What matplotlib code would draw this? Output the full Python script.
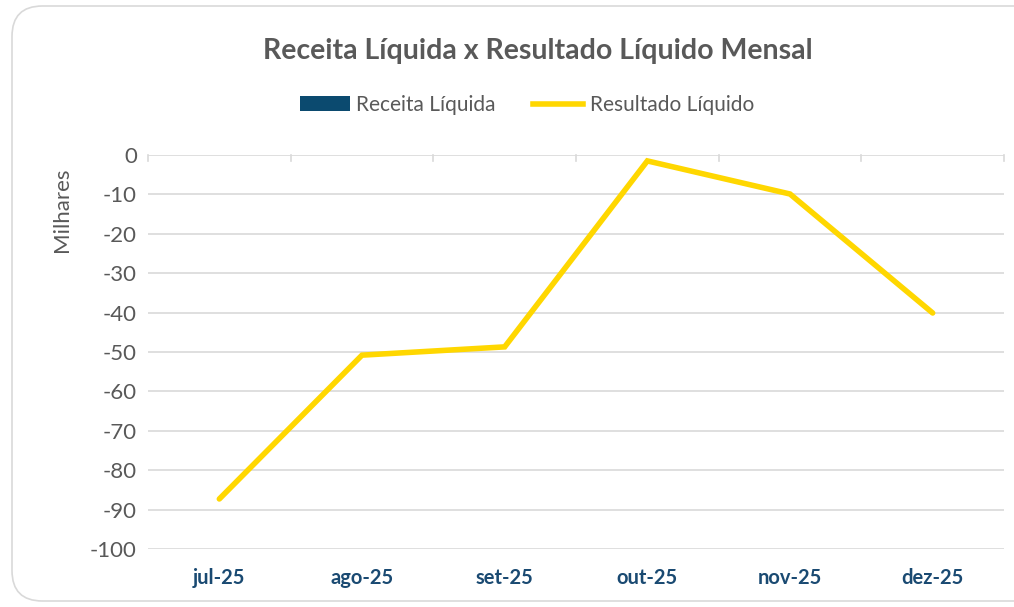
import numpy as np
import matplotlib.pyplot as plt
from matplotlib.patches import FancyBboxPatch, Patch
from matplotlib.lines import Line2D

months = ["jul-25", "ago-25", "set-25", "out-25", "nov-25", "dez-25"]
resultado = [-87.3, -50.8, -48.7, -1.5, -9.9, -40.1]
y_ticks = [0, -10, -20, -30, -40, -50, -60, -70, -80, -90, -100]

plt.rcParams["font.family"] = ["Lato", "DejaVu Sans"]

fig = plt.figure(figsize=(10.14, 6.07), dpi=100)
fig.patch.set_facecolor("white")
frame = FancyBboxPatch((12 / 1014, 6 / 607), 1.2, 1 - 12 / 607,
                       boxstyle="round,pad=0,rounding_size=0.03",
                       transform=fig.transFigure, facecolor="none",
                       edgecolor="#d9d9d9", linewidth=1.2, mutation_aspect=1014 / 607,
                       zorder=-1)
fig.patches.append(frame)

ax = fig.add_axes([148 / 1014, 1 - 549 / 607, (1004 - 148) / 1014, (549 - 155) / 607])
ax.patch.set_alpha(0)
x = np.arange(len(months))
ax.plot(x, resultado, color="#FFD700", linewidth=4, solid_capstyle="round",
        solid_joinstyle="miter", zorder=3)

ax.set_xlim(-0.5, len(months) - 0.5)
ax.set_ylim(-100, 0)
ax.set_yticks(y_ticks)
ax.set_yticklabels([str(v) for v in y_ticks], color="#595959", fontsize=16)
ax.tick_params(axis="y", length=0, pad=8)
ax.set_xticks(x)
ax.set_xticklabels(months, fontsize=14.5, fontweight="bold", color="#1A4A72")
ax.tick_params(axis="x", length=0, pad=14)
ax.grid(axis="y", color="#d9d9d9", linewidth=1.2)
ax.set_axisbelow(True)
for s in ax.spines.values():
    s.set_visible(False)
# category boundary ticks along the zero line
for b in np.arange(-0.5, len(months)):
    ax.plot([b, b], [0, -1.5], color="#d9d9d9", linewidth=1.2, clip_on=False, zorder=1)

fig.text(62 / 1014, 1 - 210 / 607, "Milhares", rotation=90, ha="center", va="center",
         color="#595959", fontsize=16)
fig.text(538 / 1014, 1 - 51 / 607, "Receita Líquida x Resultado Líquido Mensal",
         ha="center", va="center", color="#595959", fontsize=20.5, fontweight="bold")

handles = [Patch(facecolor="#0B4A6F", edgecolor="none", label="Receita Líquida"),
           Line2D([], [], color="#FFD700", linewidth=4, label="Resultado Líquido")]
fig.legend(handles=handles, loc="center", bbox_to_anchor=(527 / 1014, 1 - 105 / 607),
           ncol=2, frameon=False, fontsize=15, labelcolor="#595959",
           handlelength=2.4, handletextpad=0.3, columnspacing=1.8)

fig.savefig("out.png", dpi=100, facecolor="white")
